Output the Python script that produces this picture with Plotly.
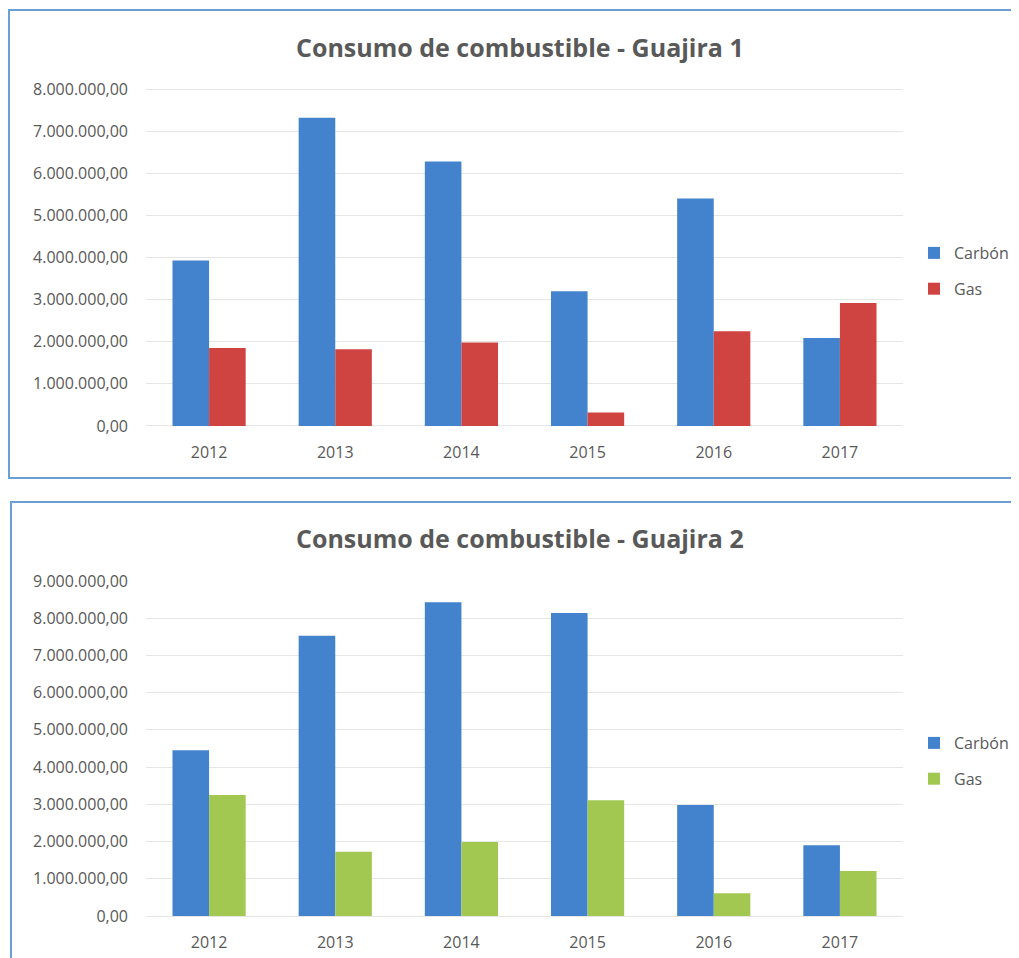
import plotly.graph_objects as go

years = ["2012", "2013", "2014", "2015", "2016", "2017"]
g1_carbon = [3930000, 7320000, 6280000, 3200000, 5400000, 2090000]
g1_gas = [1850000, 1820000, 1980000, 320000, 2250000, 2920000]
g2_carbon = [4450000, 7530000, 8430000, 8140000, 2980000, 1900000]
g2_gas = [3250000, 1730000, 1990000, 3110000, 610000, 1210000]
titles = ["Consumo de combustible - Guajira 1", "Consumo de combustible - Guajira 2"]
y1_ticks = [i * 1000000 for i in range(0, 9)]
y2_ticks = [i * 1000000 for i in range(0, 10)]

W, H = 1019, 958
OFF = 8  # page body margin
BLUE = "#4382CC"
RED = "#CF4440"
GREEN = "#A2C852"
FONT = "Open Sans"
TXT = "#595959"
GRID = "#E6E6E6"

def px(x):
    return (x - OFF) / W

def py(y):
    return 1 - (y - OFF) / H

fig = go.Figure()
fig.add_trace(go.Bar(x=years, y=g1_carbon, name="Carbón", marker=dict(color=BLUE, line=dict(width=0)),
                     xaxis="x", yaxis="y", legend="legend", legendgroup="a"))
fig.add_trace(go.Bar(x=years, y=g1_gas, name="Gas", marker=dict(color=RED, line=dict(width=0)),
                     xaxis="x", yaxis="y", legend="legend", legendgroup="b"))
fig.add_trace(go.Bar(x=years, y=g2_carbon, name="Carbón", marker=dict(color=BLUE, line=dict(width=0)),
                     xaxis="x2", yaxis="y2", legend="legend2", legendgroup="c"))
fig.add_trace(go.Bar(x=years, y=g2_gas, name="Gas", marker=dict(color=GREEN, line=dict(width=0)),
                     xaxis="x2", yaxis="y2", legend="legend2", legendgroup="d"))

xcommon = dict(showgrid=False, showline=False, zeroline=False, ticks="",
               tickfont=dict(family=FONT, size=16, color=TXT), ticklabelstandoff=14,
               type="category")
ycommon = dict(showgrid=True, gridcolor=GRID, gridwidth=1,
               zeroline=True, zerolinecolor=GRID, zerolinewidth=1, showline=False,
               ticks="", tickformat=",.2f", tickfont=dict(family=FONT, size=16, color=TXT),
               ticklabelstandoff=17, tickmode="array")

legcommon = dict(font=dict(family=FONT, size=16, color=TXT), tracegroupgap=12,
                 bgcolor="rgba(0,0,0,0)", xanchor="left", yanchor="middle",
                 itemclick=False)

fig.update_layout(
    width=W, height=H,
    margin=dict(l=0, r=0, t=0, b=0, autoexpand=False),
    paper_bgcolor="white", plot_bgcolor="white",
    separators=",.",
    barmode="group", bargap=0.42, bargroupgap=0,
    xaxis=dict(domain=[px(146), px(903)], anchor="y", **xcommon),
    yaxis=dict(domain=[py(427), py(88)], anchor="x", range=[-25000, 8025000],
               tickvals=y1_ticks, **ycommon),
    xaxis2=dict(domain=[px(146), px(903)], anchor="y2", **xcommon),
    yaxis2=dict(domain=[py(917), py(580)], anchor="x2", range=[-25000, 9025000],
                tickvals=y2_ticks, **ycommon),
    legend=dict(x=px(914), y=py(271), **legcommon),
    legend2=dict(x=px(914), y=py(761), **legcommon),
    shapes=[
        dict(type="rect", xref="paper", yref="paper", x0=px(9), x1=px(1040), y0=py(478), y1=py(10),
             line=dict(color="#6A9FD8", width=2), fillcolor="rgba(0,0,0,0)", layer="below"),
        dict(type="rect", xref="paper", yref="paper", x0=px(11), x1=px(1040), y0=py(990), y1=py(502),
             line=dict(color="#6A9FD8", width=2), fillcolor="rgba(0,0,0,0)", layer="below"),
    ],
    annotations=[
        dict(text="<b>" + titles[0] + "</b>", xref="paper", yref="paper", x=px(520), y=py(47),
             xanchor="center", yanchor="middle", showarrow=False,
             font=dict(family=FONT, size=25, color=TXT)),
        dict(text="<b>" + titles[1] + "</b>", xref="paper", yref="paper", x=px(520), y=py(538),
             xanchor="center", yanchor="middle", showarrow=False,
             font=dict(family=FONT, size=25, color=TXT)),
    ],
)

fig.write_html("out.html")
